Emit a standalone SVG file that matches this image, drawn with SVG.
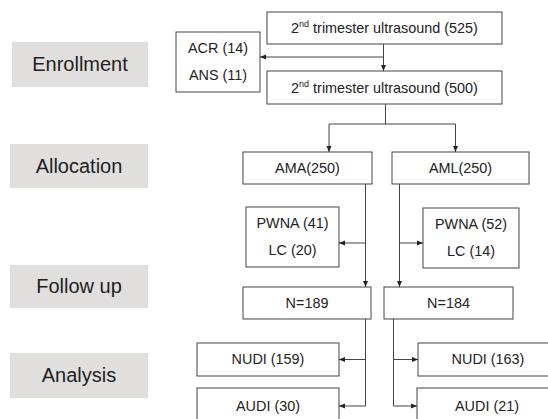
<svg xmlns="http://www.w3.org/2000/svg" width="548" height="419" viewBox="0 0 548 419">
<style>
.node rect{fill:#fff;stroke:#444;stroke-width:1}
.stage rect{fill:#e0dfde;stroke:none}
text{font-family:"Liberation Sans",Arial,sans-serif;fill:#222;text-anchor:middle}
.n{font-size:14.4px}
.s{font-size:20px}
.sup{font-size:9px}
#connectors path{fill:none;stroke:#444;stroke-width:1}
</style>
<defs>
<marker id="ah" viewBox="0 0 6 6" refX="6" refY="3" markerWidth="6" markerHeight="6" orient="auto" markerUnits="userSpaceOnUse">
<path d="M0,0.5 L6,3 L0,5.5 z" fill="#222"/>
</marker>
</defs>
<rect width="548" height="419" fill="#fff"/>
<g id="stage-enrollment" class="stage"><rect x="12" y="42" width="136" height="45"/><text class="s" x="80" y="71">Enrollment</text></g>
<g id="stage-allocation" class="stage"><rect x="10" y="144" width="138" height="44"/><text class="s" x="79" y="173">Allocation</text></g>
<g id="stage-followup" class="stage"><rect x="10" y="265" width="138" height="43"/><text class="s" x="79" y="293">Follow up</text></g>
<g id="stage-analysis" class="stage"><rect x="10" y="353" width="138" height="45"/><text class="s" x="79" y="382">Analysis</text></g>

<g id="us525" class="node"><rect x="267" y="12" width="235" height="32"/><text class="n" x="384.5" y="33">2<tspan class="sup" dy="-6">nd</tspan><tspan dy="6"> trimester ultrasound (525)</tspan></text></g>
<g id="excluded" class="node"><rect x="176" y="32" width="84" height="60"/><text class="n" x="218" y="53">ACR (14)</text><text class="n" x="218" y="80">ANS (11)</text></g>
<g id="us500" class="node"><rect x="267" y="71" width="235" height="33"/><text class="n" x="384.5" y="93">2<tspan class="sup" dy="-6">nd</tspan><tspan dy="6"> trimester ultrasound (500)</tspan></text></g>
<g id="ama" class="node"><rect x="243" y="152" width="129" height="32"/><text class="n" x="307.5" y="173">AMA(250)</text></g>
<g id="aml" class="node"><rect x="392" y="152" width="137" height="32"/><text class="n" x="460.5" y="173">AML(250)</text></g>
<g id="lost-ama" class="node"><rect x="246" y="207" width="93" height="60"/><text class="n" x="292.5" y="228">PWNA (41)</text><text class="n" x="292.5" y="255">LC (20)</text></g>
<g id="lost-aml" class="node"><rect x="423" y="208" width="96" height="60"/><text class="n" x="471" y="229">PWNA (52)</text><text class="n" x="471" y="256">LC (14)</text></g>
<g id="n189" class="node"><rect x="243" y="287" width="128" height="32"/><text class="n" x="307" y="308">N=189</text></g>
<g id="n184" class="node"><rect x="384" y="287" width="129" height="32"/><text class="n" x="448.5" y="308">N=184</text></g>
<g id="nudi159" class="node"><rect x="197" y="343" width="142" height="33"/><text class="n" x="268" y="364">NUDI (159)</text></g>
<g id="audi30" class="node"><rect x="197" y="388" width="142" height="40"/><text class="n" x="268" y="411">AUDI (30)</text></g>
<g id="nudi163" class="node"><rect x="418" y="343" width="140" height="33"/><text class="n" x="488" y="364">NUDI (163)</text></g>
<g id="audi21" class="node"><rect x="417" y="388" width="141" height="40"/><text class="n" x="487" y="411">AUDI (21)</text></g>

<g id="connectors">
<path d="M383.5,44 V71" marker-end="url(#ah)"/>
<path d="M383.5,57 H260" marker-end="url(#ah)"/>
<path d="M385.5,104 V124"/>
<path d="M329,124 H455.5"/>
<path d="M329,124 V152" marker-end="url(#ah)"/>
<path d="M455.5,124 V152" marker-end="url(#ah)"/>
<path d="M365.5,184 V287" marker-end="url(#ah)"/>
<path d="M365.5,243 H339" marker-end="url(#ah)"/>
<path d="M399.5,184 V287" marker-end="url(#ah)"/>
<path d="M399.5,243 H423" marker-end="url(#ah)"/>
<path d="M365.5,319 V406 H339" marker-end="url(#ah)"/>
<path d="M365.5,359.5 H339" marker-end="url(#ah)"/>
<path d="M393.5,319 V406 H417" marker-end="url(#ah)"/>
<path d="M393.5,359.5 H418" marker-end="url(#ah)"/>
</g>
</svg>
